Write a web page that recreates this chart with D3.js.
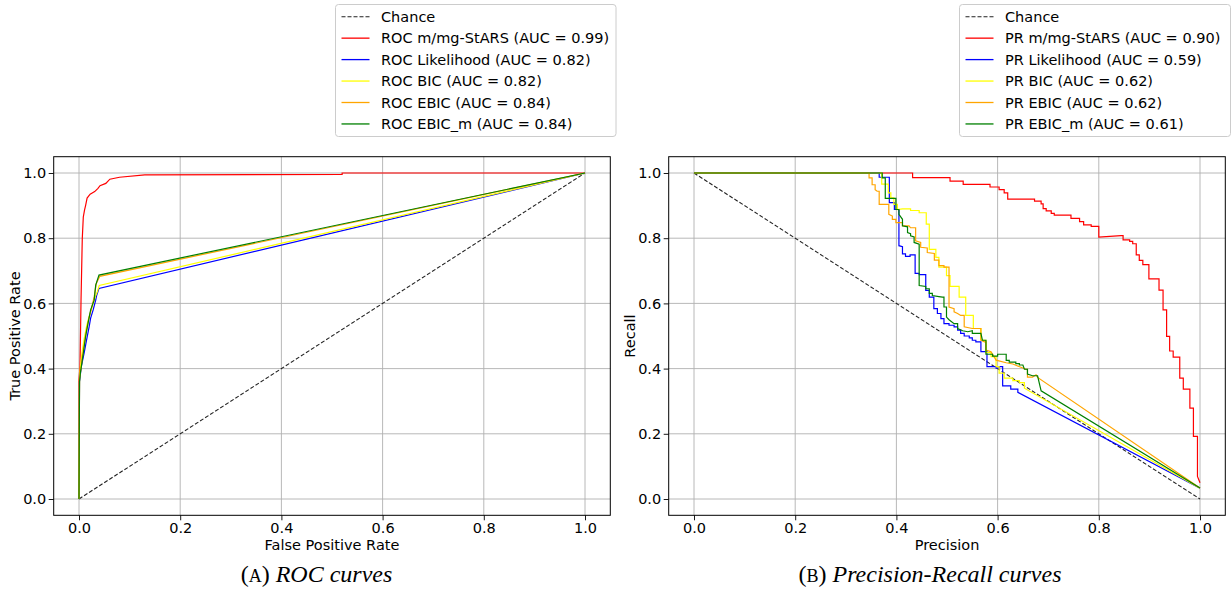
<!DOCTYPE html>
<html><head><meta charset="utf-8">
<script src="https://cdn.jsdelivr.net/npm/d3@7"></script>
<style>body{margin:0;background:#fff}svg{display:block}</style>
</head><body><svg id="c" width="1231" height="590"></svg>
<script>
// ---------- data ----------
const tickValues = [0, 0.2, 0.4, 0.6, 0.8, 1.0];
const tickLabels = ["0.0", "0.2", "0.4", "0.6", "0.8", "1.0"];
const methodNames = ["m/mg-StARS", "Likelihood", "BIC", "EBIC", "EBIC_m"];
const rocAUC = ["0.99", "0.82", "0.82", "0.84", "0.84"];
const prAUC = ["0.90", "0.59", "0.62", "0.62", "0.61"];

// ROC curves: [FPR, TPR]
const rocChance = [[0,0],[1,1]];
const rocStars = [[0,0],[0,0.365],[0.002,0.41],[0.004,0.61],[0.0065,0.80],[0.0085,0.865],[0.011,0.887],[0.013,0.90],[0.016,0.923],[0.022,0.935],[0.031,0.943],[0.0375,0.953],[0.0415,0.961],[0.053,0.968],[0.061,0.981],[0.080,0.987],[0.13,0.994],[0.52,0.996],[0.52,1.0],[1,1]];
const rocLik = [[0,0],[0.001,0.36],[0.0045,0.406],[0.010,0.447],[0.015,0.488],[0.020,0.528],[0.023,0.555],[0.028,0.58],[0.033,0.61],[0.035,0.625],[0.0395,0.646],[1,1]];
const rocBIC = [[0,0],[0.001,0.37],[0.003,0.41],[0.006,0.45],[0.010,0.49],[0.015,0.53],[0.020,0.56],[0.026,0.59],[0.032,0.62],[0.036,0.635],[0.040,0.655],[1,1]];
const rocEBIC = [[0,0],[0.001,0.37],[0.004,0.40],[0.006,0.43],[0.009,0.46],[0.014,0.51],[0.019,0.55],[0.024,0.58],[0.030,0.62],[0.034,0.66],[0.041,0.683],[1,1]];
const rocEBICm = [[0,0],[0.001,0.36],[0.003,0.39],[0.005,0.41],[0.0085,0.447],[0.013,0.498],[0.018,0.54],[0.023,0.58],[0.030,0.61],[0.033,0.656],[0.0395,0.687],[1,1]];

// PR curves: [Precision, Recall]
const prChance = [[0,1],[1,0]];
const prStars = [[0,1],[0.432,1.0],[0.432,0.986],[0.506,0.986],[0.506,0.975],[0.532,0.975],[0.532,0.965],[0.585,0.965],[0.585,0.957],[0.603,0.957],[0.603,0.949],[0.613,0.949],[0.613,0.939],[0.62,0.939],[0.62,0.920],[0.673,0.920],[0.673,0.914],[0.686,0.914],[0.686,0.905],[0.690,0.905],[0.690,0.891],[0.696,0.891],[0.696,0.884],[0.706,0.884],[0.706,0.876],[0.712,0.876],[0.712,0.871],[0.745,0.871],[0.745,0.861],[0.762,0.861],[0.762,0.851],[0.770,0.851],[0.770,0.841],[0.785,0.841],[0.785,0.836],[0.80,0.836],[0.80,0.803],[0.844,0.808],[0.848,0.808],[0.848,0.795],[0.861,0.795],[0.861,0.790],[0.867,0.790],[0.867,0.783],[0.874,0.783],[0.874,0.749],[0.880,0.749],[0.880,0.732],[0.887,0.732],[0.887,0.719],[0.899,0.719],[0.899,0.675],[0.919,0.675],[0.919,0.641],[0.927,0.641],[0.927,0.580],[0.934,0.580],[0.934,0.499],[0.940,0.499],[0.940,0.454],[0.947,0.454],[0.947,0.435],[0.960,0.435],[0.960,0.371],[0.967,0.371],[0.967,0.337],[0.980,0.337],[0.980,0.279],[0.987,0.279],[0.987,0.192],[0.995,0.192],[0.995,0.069],[1.0,0.05]];
const prLik = [[0,1],[0.366,1],[0.366,0.987],[0.386,0.987],[0.386,0.909],[0.396,0.909],[0.396,0.888],[0.405,0.888],[0.405,0.777],[0.412,0.774],[0.412,0.752],[0.418,0.752],[0.418,0.744],[0.427,0.744],[0.427,0.749],[0.437,0.749],[0.437,0.692],[0.445,0.692],[0.445,0.688],[0.458,0.688],[0.458,0.640],[0.465,0.640],[0.465,0.619],[0.474,0.619],[0.474,0.584],[0.481,0.584],[0.481,0.569],[0.488,0.569],[0.488,0.553],[0.494,0.553],[0.494,0.538],[0.504,0.538],[0.504,0.533],[0.514,0.533],[0.514,0.528],[0.521,0.528],[0.521,0.518],[0.527,0.518],[0.527,0.508],[0.534,0.508],[0.534,0.500],[0.544,0.500],[0.544,0.494],[0.550,0.494],[0.550,0.487],[0.557,0.487],[0.557,0.482],[0.567,0.482],[0.567,0.452],[0.579,0.452],[0.579,0.406],[0.597,0.406],[0.597,0.401],[0.603,0.401],[0.603,0.406],[0.610,0.406],[0.610,0.347],[0.626,0.347],[0.626,0.337],[0.640,0.337],[0.640,0.327],[1.0,0.033]];
const prBIC = [[0,1],[0.371,1],[0.371,0.966],[0.384,0.966],[0.384,0.939],[0.389,0.939],[0.389,0.924],[0.395,0.924],[0.395,0.904],[0.402,0.904],[0.402,0.888],[0.412,0.890],[0.428,0.890],[0.428,0.885],[0.445,0.885],[0.445,0.878],[0.459,0.878],[0.459,0.843],[0.465,0.843],[0.465,0.766],[0.478,0.766],[0.478,0.741],[0.484,0.741],[0.484,0.711],[0.499,0.711],[0.499,0.685],[0.506,0.685],[0.506,0.652],[0.524,0.652],[0.524,0.619],[0.537,0.619],[0.537,0.563],[0.552,0.563],[0.552,0.523],[0.567,0.523],[0.567,0.487],[0.577,0.487],[0.577,0.449],[0.587,0.449],[0.587,0.437],[0.597,0.437],[0.597,0.406],[0.603,0.406],[0.603,0.386],[0.613,0.386],[0.613,0.371],[0.630,0.371],[0.630,0.363],[0.643,0.363],[0.643,0.357],[0.653,0.357],[0.653,0.340],[1.0,0.033]];
const prEBIC = [[0,1],[0.346,1],[0.346,0.985],[0.352,0.985],[0.352,0.964],[0.358,0.964],[0.358,0.949],[0.362,0.944],[0.366,0.944],[0.366,0.904],[0.385,0.904],[0.385,0.873],[0.392,0.868],[0.392,0.858],[0.399,0.858],[0.399,0.848],[0.412,0.848],[0.412,0.838],[0.425,0.838],[0.428,0.832],[0.438,0.832],[0.438,0.792],[0.448,0.787],[0.448,0.772],[0.461,0.770],[0.461,0.756],[0.475,0.753],[0.475,0.733],[0.484,0.733],[0.484,0.716],[0.494,0.716],[0.494,0.711],[0.504,0.711],[0.504,0.589],[0.514,0.584],[0.514,0.574],[0.521,0.569],[0.527,0.563],[0.534,0.563],[0.534,0.528],[0.550,0.523],[0.567,0.523],[0.567,0.487],[0.574,0.482],[0.577,0.482],[0.577,0.457],[0.587,0.452],[0.597,0.426],[0.617,0.418],[0.630,0.414],[0.646,0.404],[0.656,0.398],[0.659,0.398],[0.659,0.374],[0.669,0.374],[0.676,0.381],[0.679,0.373],[1.0,0.034]];
const prEBICm = [[0,1],[0.372,1],[0.372,0.985],[0.378,0.985],[0.378,0.922],[0.399,0.922],[0.399,0.888],[0.405,0.888],[0.405,0.873],[0.412,0.858],[0.412,0.838],[0.422,0.835],[0.422,0.817],[0.428,0.814],[0.428,0.807],[0.435,0.804],[0.435,0.787],[0.445,0.782],[0.445,0.655],[0.458,0.652],[0.458,0.645],[0.465,0.645],[0.465,0.631],[0.471,0.631],[0.471,0.624],[0.484,0.621],[0.491,0.619],[0.494,0.619],[0.494,0.589],[0.499,0.589],[0.499,0.558],[0.504,0.550],[0.514,0.538],[0.521,0.538],[0.521,0.523],[0.531,0.516],[0.541,0.513],[0.550,0.516],[0.550,0.508],[0.567,0.508],[0.570,0.487],[0.577,0.487],[0.577,0.444],[0.590,0.444],[0.590,0.438],[0.600,0.438],[0.600,0.444],[0.617,0.444],[0.617,0.425],[0.623,0.425],[0.623,0.420],[0.636,0.420],[0.636,0.415],[0.643,0.415],[0.643,0.411],[0.650,0.411],[0.653,0.398],[0.659,0.398],[0.659,0.383],[0.669,0.378],[0.679,0.378],[0.686,0.332],[1.0,0.034]];

// ---------- style ----------
const COLORS = ["red", "blue", "yellow", "orange", "green"];
const FONT = "'DejaVu Sans', sans-serif";
const FS = 14.5;

const svg = d3.select("#c");

function panel(opt) {
  const x = d3.scaleLinear().domain([-0.05, 1.05]).range([opt.x0, opt.x1]);
  const y = d3.scaleLinear().domain([-0.05, 1.05]).range([515.3, 156.7]);
  const g = svg.append("g");

  // grid
  g.append("g").selectAll("line").data(tickValues).join("line")
    .attr("x1", d => x(d)).attr("x2", d => x(d)).attr("y1", y.range()[0]).attr("y2", y.range()[1])
    .attr("stroke", "#b0b0b0").attr("stroke-width", 0.9);
  g.append("g").selectAll("line").data(tickValues).join("line")
    .attr("y1", d => y(d)).attr("y2", d => y(d)).attr("x1", opt.x0).attr("x2", opt.x1)
    .attr("stroke", "#b0b0b0").attr("stroke-width", 0.9);

  const line = d3.line().x(d => x(d[0])).y(d => y(d[1]));
  g.append("path").datum(opt.chance).attr("d", line).attr("fill", "none")
    .attr("stroke", "#222").attr("stroke-width", 1.1).attr("stroke-dasharray", "4,2");
  opt.series.forEach((s, i) => {
    g.append("path").datum(s).attr("d", line).attr("fill", "none")
      .attr("stroke", COLORS[i]).attr("stroke-width", 1.2).attr("stroke-linejoin", "miter");
  });

  // axes
  const fmt = (d) => tickLabels[tickValues.indexOf(d)];
  const ax = g.append("g").attr("transform", `translate(0,${y.range()[0]})`)
    .call(d3.axisBottom(x).tickValues(tickValues).tickFormat(fmt).tickSize(5).tickPadding(2.5));
  const ay = g.append("g").attr("transform", `translate(${opt.x0},0)`)
    .call(d3.axisLeft(y).tickValues(tickValues).tickFormat(fmt).tickSize(5).tickPadding(2.5));
  [ax, ay].forEach(a => {
    a.select(".domain").remove();
    a.selectAll("text").attr("font-family", FONT).attr("font-size", FS).attr("fill", "#000");
    a.selectAll("line").attr("stroke", "#000").attr("stroke-width", 0.9);
  });
  g.append("rect").attr("x", opt.x0).attr("y", y.range()[1])
    .attr("width", opt.x1 - opt.x0).attr("height", y.range()[0] - y.range()[1])
    .attr("fill", "none").attr("stroke", "#000").attr("stroke-width", 1);

  // axis labels
  g.append("text").attr("x", (opt.x0 + opt.x1) / 2).attr("y", 550)
    .attr("text-anchor", "middle").attr("font-family", FONT).attr("font-size", FS).text(opt.xlabel);
  g.append("text").attr("transform", `translate(${opt.ylabX},336) rotate(-90)`)
    .attr("text-anchor", "middle").attr("font-family", FONT).attr("font-size", FS).text(opt.ylabel);

  // legend
  const lg = g.append("g");
  lg.append("rect").attr("x", opt.lx).attr("y", 4.5).attr("width", opt.lw).attr("height", 132)
    .attr("rx", 3).attr("fill", "#fff").attr("fill-opacity", 0.85)
    .attr("stroke", "#cccccc").attr("stroke-width", 1);
  const rows = [{ t: "Chance", c: "#222", dash: true }].concat(
    methodNames.map((n, i) => ({ t: `${opt.prefix} ${n} (AUC = ${opt.auc[i]})`, c: COLORS[i] })));
  rows.forEach((r, i) => {
    const yy = 16.7 + i * 21.45;
    lg.append("line").attr("x1", opt.lx + 6).attr("x2", opt.lx + 34).attr("y1", yy).attr("y2", yy)
      .attr("stroke", r.c).attr("stroke-width", r.dash ? 1.1 : 1.3)
      .attr("stroke-dasharray", r.dash ? "4,2" : null);
    lg.append("text").attr("x", opt.lx + 45.5).attr("y", yy).attr("dy", "0.36em")
      .attr("font-family", FONT).attr("font-size", FS).text(r.t);
  });

  // caption
  const cap = g.append("text").attr("x", opt.capX).attr("y", 582).attr("text-anchor", "middle")
    .attr("font-family", "'Liberation Serif', serif").attr("font-size", 24);
  cap.append("tspan").text("(");
  cap.append("tspan").attr("font-size", 18).text(opt.capLetter);
  cap.append("tspan").text(") ");
  cap.append("tspan").attr("font-style", "italic").text(opt.caption);
}

panel({ x0: 53.7, x1: 610.3, chance: rocChance, series: [rocStars, rocLik, rocBIC, rocEBIC, rocEBICm],
  xlabel: "False Positive Rate", ylabel: "True Positive Rate", ylabX: 20,
  lx: 335.5, lw: 280.5, prefix: "ROC", auc: rocAUC, capX: 316.5, capLetter: "A", caption: "ROC curves" });
panel({ x0: 668.7, x1: 1225.3, chance: prChance, series: [prStars, prLik, prBIC, prEBIC, prEBICm],
  xlabel: "Precision", ylabel: "Recall", ylabX: 635,
  lx: 959.5, lw: 271, prefix: "PR", auc: prAUC, capX: 930, capLetter: "B", caption: "Precision-Recall curves" });
</script></body></html>
